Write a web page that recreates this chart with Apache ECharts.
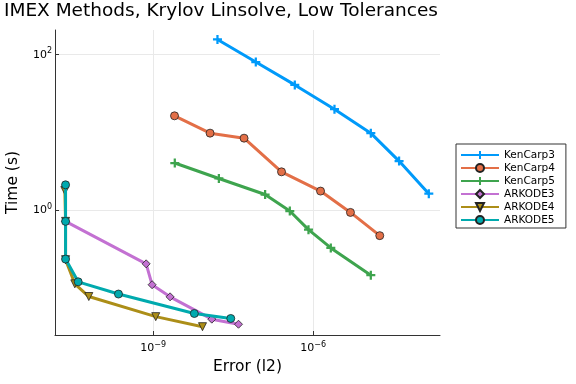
<!DOCTYPE html>
<html>
<head>
<meta charset="utf-8">
<script src="https://cdn.jsdelivr.net/npm/echarts@6/dist/echarts.min.js"></script>
<style>html,body{margin:0;padding:0;background:#fff}#c{width:576px;height:384px}</style>
</head>
<body>
<div id="c"></div>
<script>
const seriesNames = ['KenCarp3','KenCarp4','KenCarp5','ARKODE3','ARKODE4','ARKODE5'];
const kenCarp3Err  = [1.61e-8, 8.43e-8, 4.54e-7, 2.52e-6, 1.21e-5, 4.10e-5, 1.48e-4];
const kenCarp3Time = [157, 80.5, 40.9, 19.95, 9.82, 4.30, 1.64];
const kenCarp4Err  = [2.52e-9, 1.17e-8, 5.08e-8, 2.56e-7, 1.38e-6, 5.02e-6, 1.78e-5];
const kenCarp4Time = [16.4, 9.82, 8.47, 3.13, 1.77, 0.942, 0.474];
const kenCarp5Err  = [2.55e-9, 1.71e-8, 1.26e-7, 3.66e-7, 8.20e-7, 2.15e-6, 1.21e-5];
const kenCarp5Time = [4.06, 2.57, 1.60, 0.982, 0.566, 0.330, 0.147];
const arkode3Err   = [2.28e-11, 7.40e-10, 9.57e-10, 2.08e-9, 1.26e-8, 3.99e-8];
const arkode3Time  = [0.723, 0.206, 0.111, 0.0776, 0.0401, 0.0345];
const arkode4Err   = [2.21e-11, 2.28e-11, 2.28e-11, 3.40e-11, 6.22e-11, 1.12e-9, 8.43e-9];
const arkode4Time  = [1.80, 0.723, 0.233, 0.114, 0.0783, 0.0432, 0.0321];
const arkode5Err   = [2.28e-11, 2.28e-11, 2.28e-11, 3.93e-11, 2.24e-10, 5.93e-9, 2.86e-8];
const arkode5Time  = [2.13, 0.723, 0.237, 0.121, 0.0843, 0.0474, 0.0409];
const xTickExps = [-9, -6];
const yTickExps = [0, 2];

const colors = ['#009AFA','#E36F47','#3EA44E','#C371D2','#AC8E18','#00AAAE'];
const crossPath = 'path://M3,0H5V3H8V5H5V8H3V5H0V3H3Z';
const markers = [
  {symbol: crossPath, size: 9, rotate: 0, stroke: false},
  {symbol: 'circle', size: 8, rotate: 0, stroke: true},
  {symbol: crossPath, size: 9, rotate: 0, stroke: false},
  {symbol: 'diamond', size: [8, 8], rotate: 0, stroke: true},
  {symbol: 'triangle', size: 8, rotate: 180, stroke: true},
  {symbol: 'circle', size: 8, rotate: 0, stroke: true}
];
const errs = [kenCarp3Err, kenCarp4Err, kenCarp5Err, arkode3Err, arkode4Err, arkode5Err];
const times = [kenCarp3Time, kenCarp4Time, kenCarp5Time, arkode3Time, arkode4Time, arkode5Time];

function supLabel(v) {
  const e = Math.round(Math.log10(v));
  return '{b|10}{s|' + String(e).replace('-', '\u2212') + '}';
}
const labelRich = {
  b: {fontSize: 11, fontFamily: 'DejaVu Sans', color: '#000'},
  s: {fontSize: 8, fontFamily: 'DejaVu Sans', color: '#000', padding: [0, 0, 7, 0]}
};

const series = seriesNames.map((name, i) => ({
  name: name,
  type: 'line',
  data: errs[i].map((x, j) => [x, times[i][j]]),
  symbol: markers[i].symbol,
  symbolSize: markers[i].size,
  symbolRotate: markers[i].rotate,
  showAllSymbol: true,
  lineStyle: {color: colors[i], width: 3},
  itemStyle: {color: colors[i], borderColor: markers[i].stroke ? '#222' : colors[i], borderWidth: markers[i].stroke ? 0.8 : 0},
  emphasis: {disabled: true},
  animation: false,
  z: 2 + i
}));

const chart = echarts.init(document.getElementById('c'), null, {renderer: 'canvas'});
chart.setOption({
  backgroundColor: '#fff',
  animation: false,
  textStyle: {fontFamily: 'DejaVu Sans'},
  title: {
    text: 'IMEX Methods, Krylov Linsolve, Low Tolerances',
    left: 4, top: 2, padding: 0,
    textStyle: {fontSize: 18.5, fontWeight: 'normal', color: '#000', fontFamily: 'DejaVu Sans'}
  },
  grid: {left: 55, right: 136, top: 30, bottom: 49, containLabel: false, outerBoundsMode: 'none'},
  legend: {
    orient: 'vertical',
    left: 456, top: 144,
    padding: [5, 11, 2, 4],
    itemWidth: 38, itemHeight: 10, itemGap: 1,
    borderColor: '#333', borderWidth: 1,
    backgroundColor: '#fff',
    textStyle: {fontSize: 10.5, lineHeight: 12, color: '#000', fontFamily: 'DejaVu Sans'},
    data: seriesNames
  },
  xAxis: {
    type: 'log',
    min: 1.445e-11, max: 2.40e-4,
    name: 'Error (l2)', nameLocation: 'middle', nameGap: 22,
    nameTextStyle: {fontSize: 15.5, color: '#000', fontFamily: 'DejaVu Sans'},
    axisLine: {show: true, onZero: false, lineStyle: {color: '#333', width: 1}},
    axisTick: {show: true, inside: true, length: 4, lineStyle: {color: '#333'}, customValues: xTickExps.map(e => Math.pow(10, e))},
    axisLabel: {customValues: xTickExps.map(e => Math.pow(10, e)), formatter: supLabel, rich: labelRich, margin: 6},
    splitLine: {show: true, lineStyle: {color: '#e9e9e9', width: 1}, customValues: xTickExps.map(e => Math.pow(10, e))},
    minorTick: {show: false}
  },
  yAxis: {
    type: 'log',
    min: 0.0251, max: 207.5,
    name: 'Time (s)', nameLocation: 'middle', nameGap: 34, nameRotate: 90,
    nameTextStyle: {fontSize: 15.5, color: '#000', fontFamily: 'DejaVu Sans'},
    axisLine: {show: true, onZero: false, lineStyle: {color: '#333', width: 1}},
    axisTick: {show: true, inside: true, length: 4, lineStyle: {color: '#333'}, customValues: yTickExps.map(e => Math.pow(10, e))},
    axisLabel: {customValues: yTickExps.map(e => Math.pow(10, e)), formatter: supLabel, rich: labelRich, margin: 3},
    splitLine: {show: true, lineStyle: {color: '#e9e9e9', width: 1}, customValues: yTickExps.map(e => Math.pow(10, e))}
  },
  series: series
});
</script>
</body>
</html>
